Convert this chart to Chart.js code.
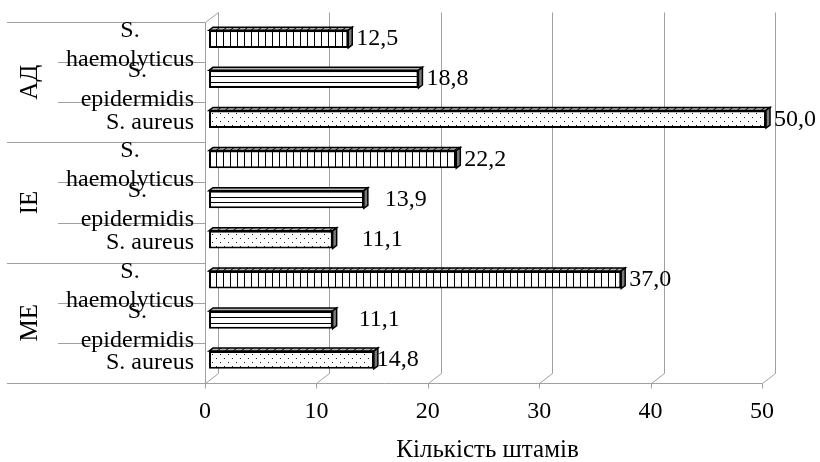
<!DOCTYPE html>
<html>
<head>
<meta charset="utf-8">
<script src="https://cdn.jsdelivr.net/npm/chart.js@4/dist/chart.umd.min.js"></script>
<style>
  html, body { margin: 0; padding: 0; background: #fff; }
  #wrap { width: 820px; height: 462px; }
</style>
</head>
<body>
<div id="wrap"><canvas id="c" width="820" height="462"></canvas></div>
<script>
// Groups (patient categories) and strains
const groups = ['АД', 'IE', 'ME'];
const speciesNames = ['S. haemolyticus', 'S. epidermidis', 'S. aureus'];
const speciesTickLines = [['S.', 'haemolyticus'], ['S.', 'epidermidis'], ['S. aureus']];

// Strain counts per group
const haemolyticusValues = [12.5, 22.2, 37.0];
const epidermidisValues = [18.8, 13.9, 11.1];
const aureusValues = [50.0, 11.1, 14.8];

const xTickValues = [0, 10, 20, 30, 40, 50];
const xAxisTitle = 'Кількість штамів';

// ---- styling ----
const FONT = "'Liberation Serif', 'Times New Roman', serif";
const GRID = '#a0a0a0';
const BAR_DEPTH = { dx: 4, dy: 3 };   // extrusion of each bar
const FRONT = { dx: -4, dy: 3 };      // floor front edge relative to bar plane
const BACK = { dx: 9, dy: -7 };       // back wall relative to bar plane
const hatchKinds = ['vertical', 'horizontal', 'dots'];
// extra horizontal shift of some value labels, [dataset][group]
const labelShift = [[0, 0, 0], [0, 13, 18], [0, 21, -5]];

Chart.defaults.font.family = FONT;
Chart.defaults.color = '#000';

function seg(ctx, x1, y1, x2, y2) {
  ctx.beginPath(); ctx.moveTo(x1, y1); ctx.lineTo(x2, y2); ctx.stroke();
}

const fmt = v => v.toFixed(1).replace('.', ',');

// Walls, floor, category frame and category labels
const frame3d = {
  id: 'frame3d',
  beforeDatasetsDraw(chart) {
    const { ctx, chartArea: a, scales: { x } } = chart;
    ctx.save();
    ctx.strokeStyle = GRID;
    ctx.lineWidth = 1;
    const fy = Math.round(a.bottom + FRONT.dy) + 0.5;
    const by = Math.round(a.bottom + BACK.dy) + 0.5;
    const ty = Math.round(a.top + BACK.dy) + 0.5;
    xTickValues.forEach(v => {
      const p = x.getPixelForValue(v);
      const pb = Math.round(p + BACK.dx) + 0.5;
      const pf = Math.round(p + FRONT.dx) + 0.5;
      seg(ctx, pb, ty, pb, by);
      seg(ctx, pf, fy, pb, by);
      seg(ctx, pf, fy, pf, fy + 5);
    });
    const lx = Math.round(a.left + FRONT.dx) + 0.5;
    const topF = Math.round(a.top + FRONT.dy) + 0.5;
    seg(ctx, lx, topF, lx, fy);
    seg(ctx, lx, topF, Math.round(a.left + BACK.dx) + 0.5, ty);

    const band = (a.bottom - a.top) / groups.length;
    const endX = Math.round(x.getPixelForValue(xTickValues[xTickValues.length - 1]) + FRONT.dx) + 0.5;
    for (let g = 0; g <= groups.length; g++) {
      const yy = Math.round(a.top + FRONT.dy + g * band) + 0.5;
      seg(ctx, 7, yy, g === groups.length ? endX : lx, yy);
      if (g < groups.length) {
        for (let s = 1; s < speciesNames.length; s++) {
          const ys = Math.round(a.top + FRONT.dy + g * band + s * band / speciesNames.length) + 0.5;
          seg(ctx, 58, ys, lx, ys);
        }
      }
    }

    // strain labels: each block right-aligned, its lines centred
    ctx.fillStyle = '#000';
    ctx.font = '24px ' + FONT;
    ctx.textBaseline = 'middle';
    ctx.textAlign = 'center';
    const right = 194;
    for (let g = 0; g < groups.length; g++) {
      for (let s = 0; s < speciesTickLines.length; s++) {
        const lines = speciesTickLines[s];
        const w = Math.max(...lines.map(t => ctx.measureText(t).width));
        const cx = right - w / 2;
        const cy = a.top + FRONT.dy + g * band + (s + 0.5) * band / speciesNames.length;
        if (lines.length === 1) {
          ctx.fillText(lines[0], cx, cy);
        } else {
          ctx.fillText(lines[0], cx, cy + 3 - 14.5);
          ctx.fillText(lines[1], cx, cy + 3 + 14.5);
        }
      }
      // group label, rotated
      ctx.save();
      ctx.font = '25px ' + FONT;
      ctx.translate(30, a.top + FRONT.dy + (g + 0.5) * band);
      ctx.rotate(-Math.PI / 2);
      ctx.fillText(groups[g], 0, 0);
      ctx.restore();
    }
    ctx.restore();
  },

  afterDatasetsDraw(chart) {
    const { ctx } = chart;
    ctx.save();
    chart.data.datasets.forEach((ds, di) => {
      const meta = chart.getDatasetMeta(di);
      const kind = hatchKinds[di];
      meta.data.forEach((el, i) => {
        const { x: xe, y: ye, base, height } = el.getProps(['x', 'y', 'base', 'height'], true);
        const top = ye - height / 2, bot = ye + height / 2;
        const { dx, dy } = BAR_DEPTH;

        // front-face hatching
        ctx.save();
        ctx.beginPath();
        ctx.rect(base + 1, top + 1, xe - base - 2, height - 2);
        ctx.clip();
        ctx.strokeStyle = '#000';
        ctx.fillStyle = '#222';
        ctx.lineWidth = 1;
        if (kind === 'vertical') {
          for (let px = base + 7; px < xe - 1; px += 7) {
            const p = Math.round(px) + 0.5;
            seg(ctx, p, top, p, bot);
          }
        } else if (kind === 'horizontal') {
          for (let k = 1; k < 3; k++) {
            const p = Math.round(top + k * height / 3) + 0.5;
            seg(ctx, base, p, xe, p);
          }
        } else {
          let r = 0;
          for (let py = top + 3; py < bot - 1; py += 4, r++) {
            for (let px = base + 3 + (r % 2) * 4; px < xe - 1; px += 8) {
              ctx.fillRect(Math.round(px), Math.round(py), 1, 1);
            }
          }
        }
        ctx.restore();

        // top face
        ctx.lineWidth = 1.5;
        ctx.strokeStyle = '#000';
        ctx.fillStyle = '#b4b4b4';
        ctx.beginPath();
        ctx.moveTo(base, top);
        ctx.lineTo(base + dx, top - dy);
        ctx.lineTo(xe + dx, top - dy);
        ctx.lineTo(xe, top);
        ctx.closePath();
        ctx.fill();
        ctx.stroke();
        if (kind !== 'horizontal') {
          ctx.lineWidth = 1;
          const step = kind === 'vertical' ? 7 : 8;
          for (let px = base + step; px < xe - 1; px += step) {
            seg(ctx, px, top, px + dx, top - dy);
          }
        }

        // end face
        ctx.lineWidth = 1.5;
        ctx.fillStyle = '#7a7a7a';
        ctx.beginPath();
        ctx.moveTo(xe, top);
        ctx.lineTo(xe + dx, top - dy);
        ctx.lineTo(xe + dx, bot - dy);
        ctx.lineTo(xe, bot);
        ctx.closePath();
        ctx.fill();
        ctx.stroke();

        // value label
        ctx.fillStyle = '#000';
        ctx.font = '24px ' + FONT;
        ctx.textAlign = 'left';
        ctx.textBaseline = 'middle';
        ctx.fillText(fmt(ds.data[i]), xe + 8 + labelShift[di][i], ye);
      });
    });
    ctx.restore();
  }
};

const mkSet = (label, data) => ({
  label,
  data,
  backgroundColor: '#ffffff',
  borderColor: '#000000',
  borderWidth: 2,
  borderSkipped: false,
  categoryPercentage: 1,
  barPercentage: 0.44
});

new Chart(document.getElementById('c'), {
  type: 'bar',
  data: {
    labels: groups,
    datasets: [
      mkSet(speciesNames[0], haemolyticusValues),
      mkSet(speciesNames[1], epidermidisValues),
      mkSet(speciesNames[2], aureusValues)
    ]
  },
  options: {
    indexAxis: 'y',
    responsive: false,
    animation: false,
    layout: { padding: { top: 19, right: 54, left: 0, bottom: 0 } },
    plugins: { legend: { display: false }, tooltip: { enabled: false } },
    scales: {
      x: {
        min: 0,
        max: 50,
        afterBuildTicks: s => { s.ticks = xTickValues.map(v => ({ value: v })); },
        afterFit: s => { s.height = 82; },
        grid: { display: false, drawTicks: false },
        border: { display: false },
        ticks: { font: { size: 24 }, color: '#000', padding: 17, labelOffset: -4, maxRotation: 0 },
        title: {
          display: true,
          text: xAxisTitle,
          font: { size: 25 },
          color: '#000',
          padding: { top: 0, bottom: -3 }
        }
      },
      y: {
        afterFit: s => { s.width = 209; },
        grid: { display: false },
        border: { display: false },
        ticks: { display: false }
      }
    }
  },
  plugins: [frame3d]
});
</script>
</body>
</html>
